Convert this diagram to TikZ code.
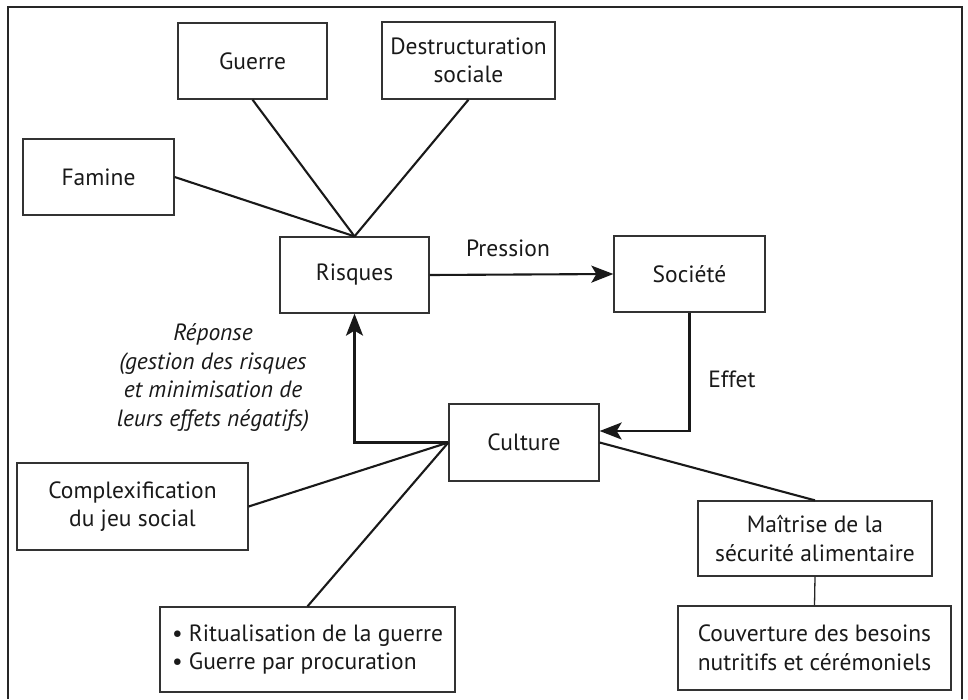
\documentclass[tikz,border=0pt]{standalone}
\usepackage{fontspec}
\setmainfont{PT Sans}
\usetikzlibrary{arrows.meta}
\begin{document}
\begin{tikzpicture}[x=1pt,y=-1pt,
  every node/.style={font=\fontsize{23.5}{28.5}\selectfont, text=black!90},
  box/.style={draw=black!80, line width=1.3pt, inner sep=0pt, align=center},
  link/.style={draw=black!90, line width=2.1pt},
  arr/.style={link, -{Stealth[length=22pt,width=17pt,inset=5pt]}}]
\useasboundingbox (0,0) rectangle (968,699);
% frame (open at bottom)
\draw[black!85, line width=1.6pt] (8,699) -- (8,7) -- (962,7) -- (962,699);

% boxes
\node[box, minimum width=149pt, minimum height=76pt] (guerre) at (252.5,61) {Guerre};
\node[box, minimum width=173pt, minimum height=77pt] (destr) at (468.5,60.5) {Destructuration\\sociale};
\node[box, minimum width=151pt, minimum height=76pt] (famine) at (98.5,177) {Famine};
\node[box, minimum width=149pt, minimum height=76pt] (risques) at (354.5,275) {Risques};
\node[box, minimum width=151pt, minimum height=76pt] (societe) at (689.5,274) {Société};
\node[box, minimum width=150pt, minimum height=77pt] (culture) at (524,442.5) {Culture};
\node[box, minimum width=231pt, minimum height=87pt] (complex) at (132.5,506.5) {Complexification\\du jeu social};
\node[box, minimum width=295pt, minimum height=85pt, align=left] (ritual) at (307.5,649.5) {• Ritualisation de la guerre\\• Guerre par procuration};
\node[box, minimum width=234pt, minimum height=75pt] (maitrise) at (815,538.5) {Maîtrise de la\\sécurité alimentaire};
\node[box, minimum width=273pt, minimum height=84pt] (couv) at (814.5,648) {Couverture des besoins\\nutritifs et cérémoniels};

% labels
\node (pression) at (508,248) {Pression};
\node (effet) at (732,379) {Effet};
\node[align=center, font=\fontsize{23.5}{28.5}\selectfont\itshape] (reponse) at (213,377.5) {Réponse\\(gestion des risques\\et minimisation de\\leurs effets négatifs)};

% connectors
\draw[link] (guerre.south) -- (risques.north);
\draw[link] (destr.south) -- (risques.north);
\draw[link] (famine.east) -- (risques.north);
\draw[arr] (risques.east) -- (societe.west);
\draw[arr] (societe.south) |- ([yshift=11.5pt]culture.east);
\draw[arr] (culture.west) -| (risques.south);
\draw[link] (complex.east) -- (culture.west);
\draw[link] (ritual.north) -- (culture.west);
\draw[link] (culture.east) -- (maitrise.north);
\draw[line width=1.3pt, black!85] (maitrise.south) -- (couv.north);
\end{tikzpicture}
\end{document}
